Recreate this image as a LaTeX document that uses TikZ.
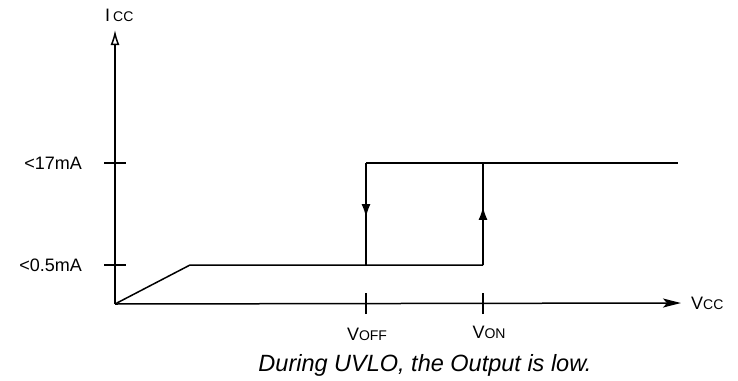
\documentclass[tikz,border=0pt]{standalone}
\usepackage{fontspec}
\setmainfont{Liberation Sans}
\usetikzlibrary{arrows.meta,decorations.markings}
\tikzset{>=latex}
\tikzset{
  axis/.style={line width=1.5pt},
  curve/.style={line width=1.5pt},
  midarrow/.style={postaction={decorate},
    decoration={markings,mark=at position #1 with {\arrow{Latex[length=13pt,width=9pt]}}}},
  lbl/.style={font=\fontsize{18}{21}\selectfont},
}
\newcommand\smallsub[1]{{\fontsize{14}{16}\selectfont #1}}

\begin{document}
\begin{tikzpicture}[x=1pt,y=-1pt]
    \useasboundingbox (0,0) rectangle (738,380);
    % axes
    \coordinate (O) at (115,304);
    \coordinate (ytop) at (115,30);
    \coordinate (xend) at (681,303);
    \draw[axis,-{Latex[open,length=15pt,width=9pt]}] (O) -- (ytop);
    \draw[axis,-{Stealth[length=18pt,width=9pt,inset=4pt]}] (O) -- (xend);
    \node[lbl,anchor=base west,inner xsep=0pt] (icc) at (105,21) {I\,\smallsub{CC}};
    \node[lbl,anchor=base west,inner xsep=0pt] (vcc) at (691,309) {V\smallsub{CC}};
    % ticks on the current axis
    \foreach\yy/\txt in {163/{<17mA},265/{<0.5mA}}{
     \draw[axis] (104,\yy) -- (126,\yy);
     \node[lbl,anchor=base east,inner xsep=0pt] at (82,{\yy+6}) {\txt};}
    % ticks on the voltage axis
    \coordinate (voff) at (366,303);
    \coordinate (von) at (483,303);
    \foreach\pt in {voff,von}{
     \draw[axis] ([yshift=-11pt]\pt) -- ([yshift=10pt]\pt);}
    \node[lbl,anchor=base] (voffl) at (367,340) {V\smallsub{OFF}};
    \node[lbl,anchor=base] (vonl) at (489,338) {V\smallsub{ON}};
    % hysteresis curve
    \coordinate (knee) at (190,265);
    \coordinate (offlow) at (366,265);
    \coordinate (onlow) at (483,265);
    \coordinate (offhigh) at (366,163);
    \coordinate (onhigh) at (483,163);
    \coordinate (rend) at (678,163);
    \draw[curve] (O) -- (knee) -- (onlow);
    \draw[curve,midarrow=0.57] (onlow) -- (onhigh);
    \draw[curve,midarrow=0.53] (offhigh) -- (offlow);
    \draw[curve] (offhigh) -- (rend);
    \node[font=\fontsize{23.5}{27}\selectfont\itshape] (note) at (425,365) {During UVLO, the Output is low.};
  \end{tikzpicture}
\end{document}
